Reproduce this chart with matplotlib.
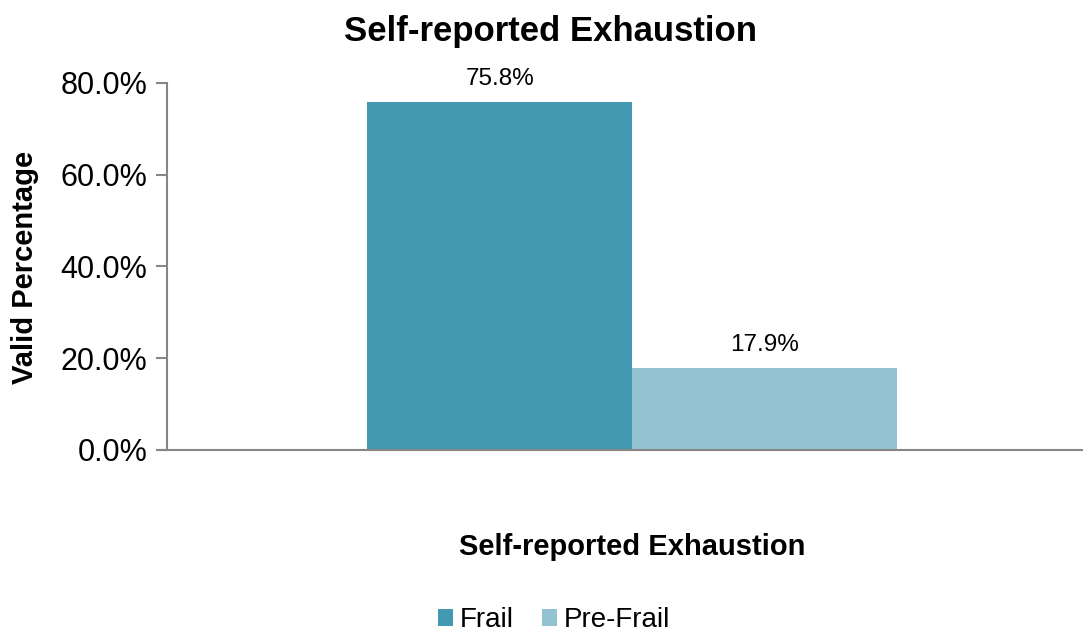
import matplotlib as mpl
mpl.use('Agg')
import matplotlib.pyplot as plt

# data
series = ['Frail', 'Pre-Frail']
values = [75.8, 17.9]
colors = ['#4399B1', '#93C3D3']
yticks = [0, 20, 40, 60, 80]

plt.rcParams['font.family'] = ['Liberation Sans', 'DejaVu Sans']

fig = plt.figure(figsize=(10.83, 6.32), dpi=100)
ax = fig.add_axes([0.1542, 0.288, 1 - 0.1542, 0.8687 - 0.288])

positions = [-0.5, 0.5]
for pos, val, col, name in zip(positions, values, colors, series):
    ax.bar(pos, val, width=1.0, color=col, label=name)
    ax.text(pos, val + 2.6, '%.1f%%' % val, ha='center', va='bottom', fontsize=17.5)

ax.set_xlim(-1.755, 1.70)
ax.set_ylim(0, 80)
ax.set_yticks(yticks)
ax.set_yticklabels(['%.1f%%' % t for t in yticks], fontsize=22)
ax.set_xticks([])
ax.tick_params(axis='y', length=8, width=1.5, color='#868686', pad=6)

for s in ['top', 'right']:
    ax.spines[s].set_visible(False)
for s in ['left', 'bottom']:
    ax.spines[s].set_color('#868686')
    ax.spines[s].set_linewidth(1.5)
ax.spines['bottom'].set_bounds(-1.755 - 8 / 265.0, 1.70)
ax.spines['bottom'].set_clip_on(False)

fig.text(25 / 1083.0, 1 - 267 / 632.0, 'Valid Percentage', rotation=90, ha='center', va='center',
         fontsize=21, fontweight='bold')
fig.text(632 / 1083.0, 1 - 547 / 632.0, 'Self-reported Exhaustion', ha='center', va='center',
         fontsize=21, fontweight='bold')
fig.text(550 / 1083.0, 1 - 31 / 632.0, 'Self-reported Exhaustion', ha='center', va='center',
         fontsize=25, fontweight='bold')

fig.legend(loc='center', bbox_to_anchor=(554 / 1083.0, 1 - 620 / 632.0), ncol=2, frameon=False,
           fontsize=20, handlelength=0.55, handleheight=0.55, handletextpad=0.25,
           columnspacing=1.0)

plt.savefig('out.png', dpi=100)
